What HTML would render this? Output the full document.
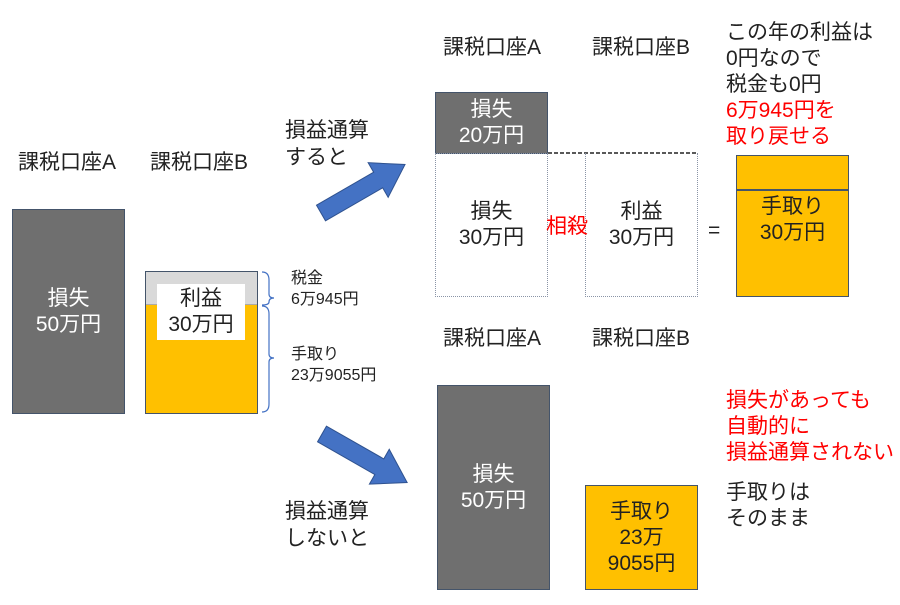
<!DOCTYPE html>
<html><head><meta charset="utf-8"><style>
body{margin:0;width:900px;height:605px;background:#fff;position:relative;overflow:hidden;font-family:"Liberation Sans","Noto Sans CJK JP",sans-serif;color:#222}
div{position:absolute;box-sizing:border-box}
.t{font-size:21px;line-height:25px;white-space:nowrap}
.c{display:flex;align-items:center;justify-content:center;text-align:center;font-size:21px;line-height:26px}
.gray{background:#6f6f6f;border:1.5px solid #44546a;color:#fff}
.or{background:#ffc000;border:1.5px solid #44546a}
.dot{border:1.5px dotted #8a94a6}
.red{color:#ff0000}
</style></head><body>
<div class="t" style="left:18px;top:150px">課税口座A</div>
<div class="t" style="left:150px;top:150px">課税口座B</div>
<div class="c gray" style="left:12px;top:209px;width:113px;height:205px">損失<br>50万円</div>
<div style="left:145px;top:271px;width:113px;height:143px;background:#ffc000;border:1.5px solid #44546a"></div>
<div style="left:146px;top:272px;width:111px;height:33px;background:#d9d9d9;border-bottom:1px solid #aaa"></div>
<div class="c" style="left:157px;top:284px;width:88px;height:56px;background:#fff;color:#222">利益<br>30万円</div>
<svg style="position:absolute;left:0;top:0" width="900" height="605">
<path d="M262 272 q7 0 7 8 v14 q0 4 5 4 q-5 0 -5 4 v0 q0 3 -7 3" fill="none" stroke="#4472c4" stroke-width="1.2"/>
<path d="M262 306 q7 0 7 8 v40 q0 4 5 4 q-5 0 -5 4 v42 q0 8 -7 8" fill="none" stroke="#4472c4" stroke-width="1.2"/>
<g transform="translate(321,213) rotate(-30)"><polygon points="0,-9 66,-9 66,-20 97,0 66,20 66,9 0,9" fill="#4472c4" stroke="#2f528f" stroke-width="1"/></g>
<g transform="translate(322,434) rotate(29.7)"><polygon points="0,-9 66,-9 66,-20 98,0 66,20 66,9 0,9" fill="#4472c4" stroke="#2f528f" stroke-width="1"/></g>
<line x1="548" y1="153" x2="697" y2="153" stroke="#222" stroke-width="1.5" stroke-dasharray="4,2"/>
</svg>
<div class="t" style="left:291px;top:268px;font-size:16px;line-height:21px">税金<br>6万945円</div>
<div class="t" style="left:291px;top:344px;font-size:16px;line-height:21px">手取り<br>23万9055円</div>
<div class="t" style="left:285px;top:117px;line-height:27px">損益通算<br>すると</div>
<div class="t" style="left:285px;top:498px;line-height:27px">損益通算<br>しないと</div>
<div class="t" style="left:443px;top:35px">課税口座A</div>
<div class="t" style="left:592px;top:35px">課税口座B</div>
<div class="t" style="left:726px;top:20px;line-height:26px">この年の利益は<br>0円なので<br>税金も0円<br><span class="red">6万945円を<br>取り戻せる</span></div>
<div class="c gray" style="left:435px;top:92px;width:113px;height:62px;color:#fff">損失<br>20万円</div>
<div class="c dot" style="left:435px;top:153px;width:113px;height:144px">損失<br>30万円</div>
<div class="c dot" style="left:585px;top:153px;width:113px;height:144px;border-top:none">利益<br>30万円</div>
<div class="t red" style="left:546px;top:214px">相殺</div>
<div class="t" style="left:708px;top:218px">=</div>
<div class="or" style="left:736px;top:155px;width:113px;height:142px"></div>
<div style="left:737px;top:189px;width:111px;height:1.5px;background:#44546a"></div>
<div class="c" style="left:736px;top:190px;width:113px;height:60px">手取り<br>30万円</div>
<div class="t" style="left:443px;top:326px">課税口座A</div>
<div class="t" style="left:592px;top:326px">課税口座B</div>
<div class="c gray" style="left:437px;top:385px;width:113px;height:205px">損失<br>50万円</div>
<div class="c or" style="left:585px;top:485px;width:113px;height:105px">手取り<br>23万<br>9055円</div>
<div class="t red" style="left:726px;top:388px;line-height:26px">損失があっても<br>自動的に<br>損益通算されない</div>
<div class="t" style="left:726px;top:480px;line-height:26px">手取りは<br>そのまま</div>
</body></html>
